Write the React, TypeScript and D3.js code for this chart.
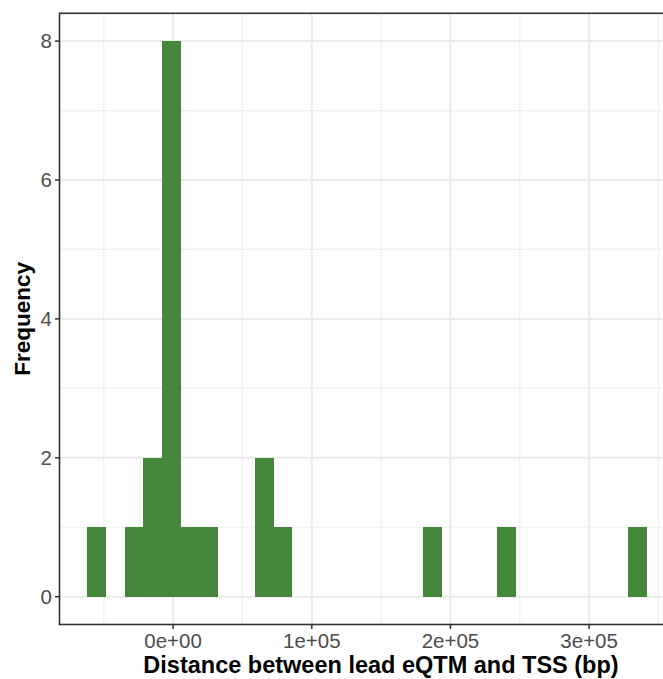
import React, { useEffect, useRef } from "react";
import * as d3 from "d3";

// histogram bins (30 bins, ggplot default)
const binStart = -61770;
const binWidth = 13439;
const counts = [
  1, 0, 1, 2, 8, 1, 1, 0, 0, 2, 1, 0, 0, 0, 0, 0, 0, 0, 1, 0, 0, 0, 1, 0, 0, 0, 0, 0, 0, 1,
];
const xTicks = [0, 100000, 200000, 300000];
const xTickLabels = ["0e+00", "1e+05", "2e+05", "3e+05"];
const yTicks = [0, 2, 4, 6, 8];

const W = 663;
const H = 679;

export default function App() {
  const ref = useRef<SVGGElement>(null);

  useEffect(() => {
    const g = d3.select(ref.current);
    g.selectAll("*").remove();

    const bins = counts.map((c, i) => ({
      x0: binStart + i * binWidth,
      x1: binStart + (i + 1) * binWidth,
      count: c,
    }));

    const lo = binStart;
    const hi = binStart + counts.length * binWidth;
    const padX = (hi - lo) * 0.05;
    const maxY = d3.max(counts) as number;
    const padY = maxY * 0.05;

    const left = 59.5, right = 674.5, top = 13.3, bottom = 624.5;

    const x = d3.scaleLinear().domain([lo - padX, hi + padX]).range([left, right]);
    const y = d3.scaleLinear().domain([-padY, maxY + padY]).range([bottom, top]);

    // grid
    const minorX = xTicks.map((t) => t - 50000).concat([xTicks[xTicks.length - 1] + 50000]);
    const minorY = [1, 3, 5, 7];
    g.selectAll(".gxm")
      .data(minorX)
      .enter()
      .append("line")
      .attr("x1", (d) => x(d))
      .attr("x2", (d) => x(d))
      .attr("y1", top)
      .attr("y2", bottom)
      .attr("stroke", "#F0F0F0")
      .attr("stroke-width", 1.2);
    g.selectAll(".gym")
      .data(minorY)
      .enter()
      .append("line")
      .attr("x1", left)
      .attr("x2", right)
      .attr("y1", (d) => y(d))
      .attr("y2", (d) => y(d))
      .attr("stroke", "#F0F0F0")
      .attr("stroke-width", 1.2);
    g.selectAll(".gx")
      .data(xTicks)
      .enter()
      .append("line")
      .attr("x1", (d) => x(d))
      .attr("x2", (d) => x(d))
      .attr("y1", top)
      .attr("y2", bottom)
      .attr("stroke", "#EBEBEB")
      .attr("stroke-width", 2);
    g.selectAll(".gy")
      .data(yTicks)
      .enter()
      .append("line")
      .attr("x1", left)
      .attr("x2", right)
      .attr("y1", (d) => y(d))
      .attr("y2", (d) => y(d))
      .attr("stroke", "#EBEBEB")
      .attr("stroke-width", 2);

    // bars
    g.selectAll(".bar")
      .data(bins.filter((b) => b.count > 0))
      .enter()
      .append("rect")
      .attr("x", (d) => x(d.x0))
      .attr("width", (d) => x(d.x1) - x(d.x0))
      .attr("y", (d) => y(d.count))
      .attr("height", (d) => y(0) - y(d.count))
      .attr("fill", "#44873A")
      .attr("shape-rendering", "crispEdges");

    // panel border
    g.append("rect")
      .attr("x", left)
      .attr("y", top)
      .attr("width", right - left)
      .attr("height", bottom - top)
      .attr("fill", "none")
      .attr("stroke", "#333333")
      .attr("stroke-width", 1.6);

    // x axis
    const xa = g.append("g");
    xa.selectAll("line")
      .data(xTicks)
      .enter()
      .append("line")
      .attr("x1", (d) => x(d))
      .attr("x2", (d) => x(d))
      .attr("y1", bottom)
      .attr("y2", bottom + 4.5)
      .attr("stroke", "#333333")
      .attr("stroke-width", 1.5);
    xa.selectAll("text")
      .data(xTicks)
      .enter()
      .append("text")
      .attr("x", (d) => x(d))
      .attr("y", 648)
      .attr("text-anchor", "middle")
      .attr("fill", "#4D4D4D")
      .style("font-size", "20.5px")
      .text((d, i) => xTickLabels[i]);

    // y axis
    const ya = g.append("g");
    ya.selectAll("line")
      .data(yTicks)
      .enter()
      .append("line")
      .attr("x1", left - 4.5)
      .attr("x2", left)
      .attr("y1", (d) => y(d))
      .attr("y2", (d) => y(d))
      .attr("stroke", "#333333")
      .attr("stroke-width", 1.5);
    ya.selectAll("text")
      .data(yTicks)
      .enter()
      .append("text")
      .attr("x", 52)
      .attr("y", (d) => y(d) + 7)
      .attr("text-anchor", "end")
      .attr("fill", "#4D4D4D")
      .style("font-size", "20.5px")
      .text((d) => String(d));

    // titles
    g.append("text")
      .attr("x", 381)
      .attr("y", 673)
      .attr("text-anchor", "middle")
      .attr("font-weight", "bold")
      .attr("fill", "#000")
      .style("font-size", "23.5px")
      .text("Distance between lead eQTM and TSS (bp)");
    g.append("text")
      .attr("transform", `translate(30,${(top + bottom) / 2}) rotate(-90)`)
      .attr("text-anchor", "middle")
      .attr("font-weight", "bold")
      .attr("fill", "#000")
      .style("font-size", "22.5px")
      .text("Frequency");
  }, []);

  return (
    <svg
      width={W}
      height={H}
      style={{ position: "absolute", left: 0, top: 0, fontFamily: "'Liberation Sans', Arial, sans-serif" }}
    >
      <rect width={W} height={H} fill="#fff" />
      <g ref={ref} />
    </svg>
  );
}
